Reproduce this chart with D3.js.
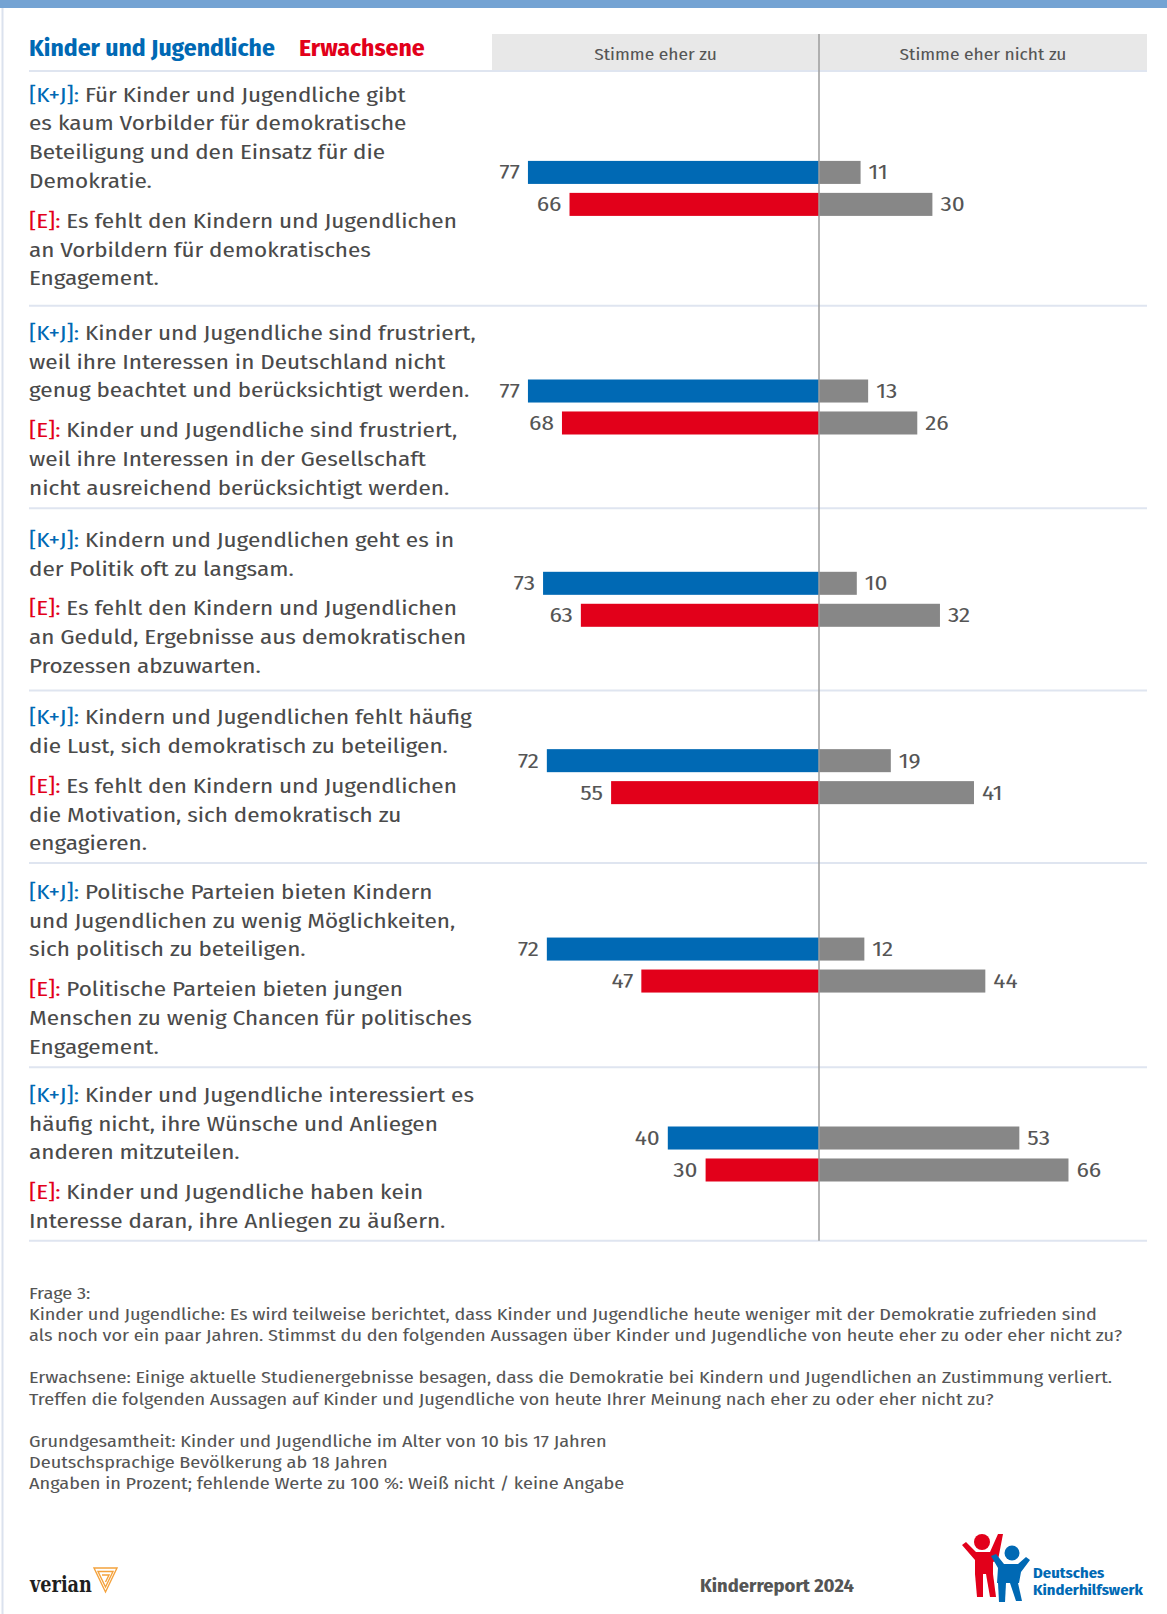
<!DOCTYPE html>
<html>
<head>
<meta charset="utf-8">
<script src="https://cdn.jsdelivr.net/npm/d3@7"></script>
<style>
  html, body { margin: 0; padding: 0; background: #fff; }
  svg { display: block; }
</style>
</head>
<body>
<div id="chart"></div>
<script>
// ---------------- DATA ----------------
const seriesNames = ["Kinder und Jugendliche", "Erwachsene"];
const seriesPrefixes = ["[K+J]:", "[E]:"];
const columnLabels = ["Stimme eher zu", "Stimme eher nicht zu"];

const kjStatements = [
  ["Für Kinder und Jugendliche gibt", "es kaum Vorbilder für demokratische", "Beteiligung und den Einsatz für die", "Demokratie."],
  ["Kinder und Jugendliche sind frustriert,", "weil ihre Interessen in Deutschland nicht", "genug beachtet und berücksichtigt werden."],
  ["Kindern und Jugendlichen geht es in", "der Politik oft zu langsam."],
  ["Kindern und Jugendlichen fehlt häufig", "die Lust, sich demokratisch zu beteiligen."],
  ["Politische Parteien bieten Kindern", "und Jugendlichen zu wenig Möglichkeiten,", "sich politisch zu beteiligen."],
  ["Kinder und Jugendliche interessiert es", "häufig nicht, ihre Wünsche und Anliegen", "anderen mitzuteilen."]
];
const eStatements = [
  ["Es fehlt den Kindern und Jugendlichen", "an Vorbildern für demokratisches", "Engagement."],
  ["Kinder und Jugendliche sind frustriert,", "weil ihre Interessen in der Gesellschaft", "nicht ausreichend berücksichtigt werden."],
  ["Es fehlt den Kindern und Jugendlichen", "an Geduld, Ergebnisse aus demokratischen", "Prozessen abzuwarten."],
  ["Es fehlt den Kindern und Jugendlichen", "die Motivation, sich demokratisch zu", "engagieren."],
  ["Politische Parteien bieten jungen", "Menschen zu wenig Chancen für politisches", "Engagement."],
  ["Kinder und Jugendliche haben kein", "Interesse daran, ihre Anliegen zu äußern."]
];

const kjAgree    = [77, 77, 73, 72, 72, 40];
const kjDisagree = [11, 13, 10, 19, 12, 53];
const eAgree     = [66, 68, 63, 55, 47, 30];
const eDisagree  = [30, 26, 32, 41, 44, 66];

const footerLines = [
  "Frage 3:",
  "Kinder und Jugendliche: Es wird teilweise berichtet, dass Kinder und Jugendliche heute weniger mit der Demokratie zufrieden sind",
  "als noch vor ein paar Jahren. Stimmst du den folgenden Aussagen über Kinder und Jugendliche von heute eher zu oder eher nicht zu?",
  "",
  "Erwachsene: Einige aktuelle Studienergebnisse besagen, dass die Demokratie bei Kindern und Jugendlichen an Zustimmung verliert.",
  "Treffen die folgenden Aussagen auf Kinder und Jugendliche von heute Ihrer Meinung nach eher zu oder eher nicht zu?",
  "",
  "Grundgesamtheit: Kinder und Jugendliche im Alter von 10 bis 17 Jahren",
  "Deutschsprachige Bevölkerung ab 18 Jahren",
  "Angaben in Prozent; fehlende Werte zu 100 %: Weiß nicht / keine Angabe"
];
const reportTitle = "Kinderreport 2024";
const logoLines = ["Deutsches", "Kinderhilfswerk"];

// ---------------- STYLE ----------------
const W = 1167, H = 1614;
const FONT = "'Fira Sans Condensed', 'Open Sans', 'Noto Sans', sans-serif";
const C = {
  blue: "#0069b4", red: "#e2001a", grey: "#878787", text: "#4a4a4a",
  band: "#e8e8e8", sep: "#dfe5f0", axis: "#9c9c9c", top: "#74a3d3"
};

const svg = d3.select("#chart").append("svg")
  .attr("width", W).attr("height", H)
  .style("font-family", FONT);

function fit(str, size, weight, target, family) {
  const t = svg.append("text").attr("font-size", size).attr("font-weight", weight)
    .style("font-family", family || FONT).text(str);
  const len = t.node().getComputedTextLength();
  t.remove();
  return target / len;
}
const sxBody = fit("[K+J]: Für Kinder und Jugendliche gibt", 20, 400, 377);
const sxHead = fit("Kinder und Jugendliche", 24, 700, 246);
const sxBand = fit("Stimme eher nicht zu", 17, 400, 167);
const sxFoot = fit(footerLines[1], 16, 400, 1068);
const sxRep  = fit(reportTitle, 18, 700, 154);
const sxLogo = fit(logoLines[1], 15, 700, 110);
const VFONT = "'DejaVu Serif', 'Liberation Serif', serif";
const sxVer  = fit("verian", 22, 700, 62, VFONT);

function txt(parent, x, y, sx, opts) {
  return parent.append("text")
    .attr("transform", `translate(${x},${y}) scale(${sx},1)`)
    .attr("font-size", opts.size)
    .attr("font-weight", opts.weight || 400)
    .attr("fill", opts.fill || C.text)
    .attr("text-anchor", opts.anchor || "start");
}

// ---------------- FRAME ----------------
svg.append("rect").attr("x", 0).attr("y", 0).attr("width", W).attr("height", 8).attr("fill", C.top);
svg.append("line").attr("x1", 2.5).attr("x2", 2.5).attr("y1", 8).attr("y2", H)
  .attr("stroke", "#dbe2ee").attr("stroke-width", 2);

// ---------------- SCALES ----------------
const AX = 819;
const x = d3.scaleLinear().domain([-100, 100]).range([AX - 378, AX + 378]);
const LEFT = 29, RIGHT = 1147, BAND_L = 492;
const HEAD_TOP = 34, HEAD_BOT = 71;

// header band
svg.append("rect").attr("x", BAND_L).attr("y", HEAD_TOP).attr("width", RIGHT - BAND_L)
  .attr("height", HEAD_BOT - HEAD_TOP).attr("fill", C.band);
txt(svg, (BAND_L + AX) / 2, 59.5, sxBand, {size: 17, anchor: "middle", fill: "#555"}).text(columnLabels[0]);
txt(svg, (AX + RIGHT) / 2, 59.5, sxBand, {size: 17, anchor: "middle", fill: "#555"}).text(columnLabels[1]);

// legend titles
txt(svg, LEFT, 56, sxHead, {size: 24, weight: 700, fill: C.blue}).text(seriesNames[0]);
txt(svg, 299, 56, sxHead, {size: 24, weight: 700, fill: C.red}).text(seriesNames[1]);

// ---------------- GROUP LAYOUT ----------------
const LH = 28.8, GAP = 11;
const padTop = [24, 27.4, 32, 27.3, 29.3, 28];
const padBot = [27, 20, 24, 19, 20, 19.4];
const groups = [];
let yTop = HEAD_BOT;
kjStatements.forEach((kj, i) => {
  const n = kj.length + eStatements[i].length;
  const span = (n - 1) * LH + GAP;
  const h = padTop[i] + span + padBot[i];
  groups.push({i, top: yTop, h, mid: yTop + h / 2});
  yTop += h;
});
const chartBottom = yTop;

// separators
svg.append("line").attr("x1", LEFT).attr("x2", RIGHT).attr("y1", HEAD_BOT).attr("y2", HEAD_BOT)
  .attr("stroke", C.sep).attr("stroke-width", 2);
groups.forEach(g => {
  svg.append("line").attr("x1", LEFT).attr("x2", RIGHT)
    .attr("y1", g.top + g.h).attr("y2", g.top + g.h)
    .attr("stroke", C.sep).attr("stroke-width", 2);
});

// statements
groups.forEach(g => {
  const blocks = [kjStatements[g.i], eStatements[g.i]];
  let yc = g.top + padTop[g.i];
  blocks.forEach((lines, b) => {
    lines.forEach((line, li) => {
      const t = txt(svg, LEFT, yc + 6.5, sxBody, {size: 20});
      if (li === 0) {
        t.append("tspan").attr("fill", b === 0 ? C.blue : C.red).text(seriesPrefixes[b] + " ");
      }
      t.append("tspan").text(line);
      yc += LH;
    });
    yc += GAP;
  });
});

// bars
const bars = groups.map(g => ({
  g, rows: [
    {s: seriesNames[0], agree: kjAgree[g.i], dis: kjDisagree[g.i], color: C.blue},
    {s: seriesNames[1], agree: eAgree[g.i], dis: eDisagree[g.i], color: C.red}
  ]
}));
bars.forEach(b => {
  const yb = d3.scaleBand().domain(seriesNames).range([b.g.mid - 27.5, b.g.mid + 27.5])
    .paddingInner(0.28).paddingOuter(0);
  const gg = svg.append("g");
  gg.selectAll("rect.agree").data(b.rows).join("rect").attr("class", "agree")
    .attr("x", d => x(-d.agree)).attr("width", d => x(0) - x(-d.agree))
    .attr("y", d => yb(d.s)).attr("height", yb.bandwidth()).attr("fill", d => d.color);
  gg.selectAll("rect.dis").data(b.rows).join("rect").attr("class", "dis")
    .attr("x", x(0)).attr("width", d => x(d.dis) - x(0))
    .attr("y", d => yb(d.s)).attr("height", yb.bandwidth()).attr("fill", C.grey);
  b.rows.forEach(d => {
    const yc = yb(d.s) + yb.bandwidth() / 2 + 7;
    txt(gg, x(-d.agree) - 8, yc, sxBody, {size: 20, anchor: "end", fill: "#555"}).text(d.agree);
    txt(gg, x(d.dis) + 8, yc, sxBody, {size: 20, anchor: "start", fill: "#555"}).text(d.dis);
  });
});

// center axis
svg.append("line").attr("x1", x(0)).attr("x2", x(0)).attr("y1", HEAD_TOP).attr("y2", chartBottom)
  .attr("stroke", C.axis).attr("stroke-width", 1.5);

// ---------------- FOOTER ----------------
const FL = 21.1;
footerLines.forEach((line, i) => {
  if (!line) return;
  txt(svg, LEFT, 1299 + i * FL, sxFoot, {size: 16, fill: "#555"}).text(line);
});

txt(svg, 700, 1592, sxRep, {size: 18, weight: 700, fill: "#555"}).text(reportTitle);

// verian logo
svg.append("text").attr("transform", `translate(30,1592) scale(${sxVer},1)`)
  .attr("font-size", 22).attr("font-weight", 700).attr("fill", "#1f1f1f")
  .style("font-family", VFONT).text("verian");
const vg = svg.append("g").attr("fill", "none").attr("stroke", "#f4a23c").attr("stroke-width", 1.4);
vg.append("path").attr("d", "M94,1568 L117,1568 L105.5,1592 Z");
vg.append("path").attr("d", "M98,1571.5 L113,1571.5 L105.5,1587 Z");
vg.append("path").attr("d", "M102,1575 L109,1575 L105.5,1582");

// DKHW logo (simplified figures)
const lg = svg.append("g");
lg.append("circle").attr("cx", 982).attr("cy", 1542).attr("r", 8).attr("fill", C.red);
lg.append("path").attr("fill", C.red)
  .attr("d", "M962,1545 L966,1542 L976,1552 L990,1552 L998,1534 L1003,1534 L998,1560 L993,1562 L993,1574 L975,1574 L975,1560 Z");
lg.append("path").attr("fill", C.red).attr("d", "M975,1574 L983,1574 L983,1597 L977,1597 Z");
lg.append("path").attr("fill", C.red).attr("d", "M986,1574 L993,1574 L996,1597 L990,1597 Z");
lg.append("circle").attr("cx", 1012).attr("cy", 1553).attr("r", 7.5).attr("fill", C.blue);
lg.append("path").attr("fill", C.blue)
  .attr("d", "M991,1556 L996,1554 L1004,1564 L1018,1564 L1026,1557 L1030,1560 L1021,1572 L1019,1583 L997,1583 L998,1568 Z");
lg.append("path").attr("fill", C.blue).attr("d", "M998,1583 L1006,1583 L1005,1602 L999,1602 Z");
lg.append("path").attr("fill", C.blue).attr("d", "M1010,1583 L1018,1583 L1022,1601 L1016,1601 Z");
txt(svg, 1033, 1578, sxLogo, {size: 15, weight: 700, fill: C.blue}).text(logoLines[0]);
txt(svg, 1033, 1595, sxLogo, {size: 15, weight: 700, fill: C.blue}).text(logoLines[1]);
</script>
</body>
</html>
